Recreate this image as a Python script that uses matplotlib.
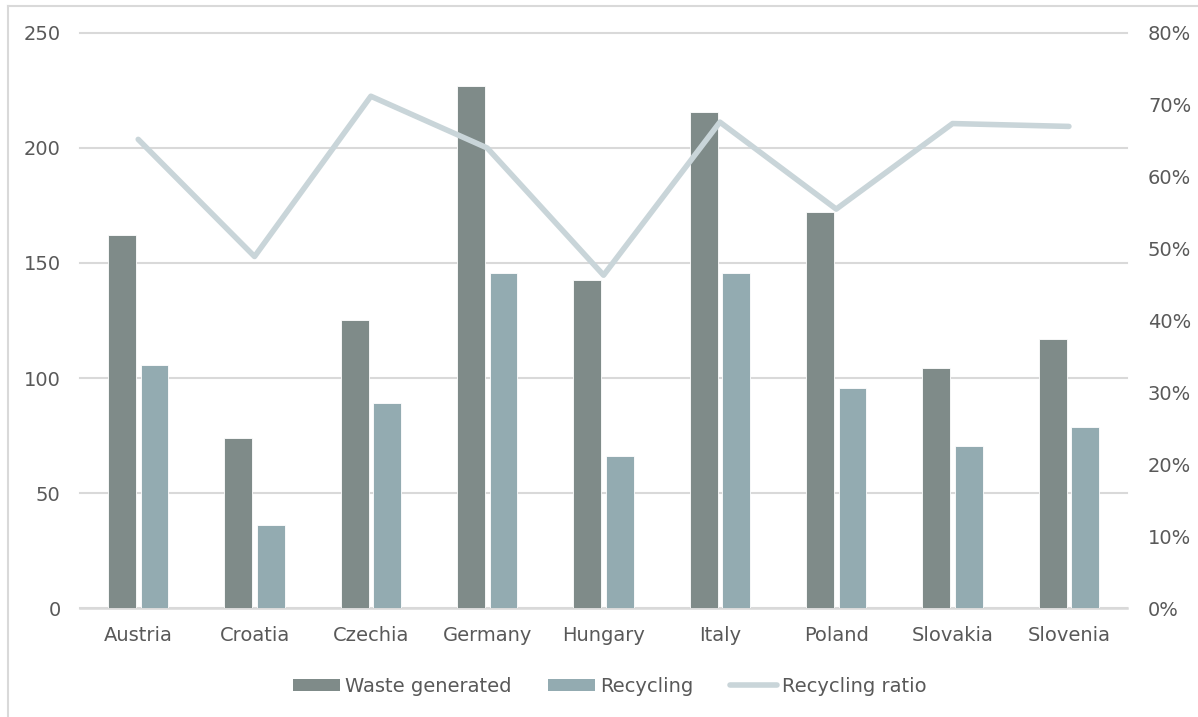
import matplotlib.pyplot as plt
from matplotlib.lines import Line2D
from matplotlib.ticker import FuncFormatter
import numpy as np

countries = ["Austria", "Croatia", "Czechia", "Germany", "Hungary",
             "Italy", "Poland", "Slovakia", "Slovenia"]
waste = [162, 74, 125, 227, 142.5, 215.5, 172, 104.5, 117]
recycling = [105.5, 36, 89, 145.5, 66, 145.5, 95.5, 70.5, 78.5]
ratio = [0.652, 0.489, 0.712, 0.640, 0.463, 0.676, 0.555, 0.674, 0.670]

C_WASTE = "#7f8b89"
C_REC = "#93abb1"
C_RATIO = "#c9d5d9"
C_TEXT = "#595959"
C_GRID = "#d9d9d9"

plt.rcParams['font.family'] = ['DejaVu Sans']

fig = plt.figure(figsize=(11.98, 7.17), dpi=100)
ax = fig.add_axes([0.0668, 0.152, 0.874, 0.802])
x = np.arange(len(countries))
w = 0.24

ax.bar(x - 0.14, waste, w, color=C_WASTE, edgecolor="white", linewidth=0.6, zorder=2)
ax.bar(x + 0.14, recycling, w, color=C_REC, edgecolor="white", linewidth=0.6, zorder=2)

ax.set_ylim(0, 250)
ax.set_xlim(-0.5, len(countries) - 0.5)
ax.set_yticks(range(0, 251, 50))
ax.yaxis.grid(True, color=C_GRID, linewidth=1.5, zorder=0)
for gl in ax.get_ygridlines():
    gl.set_clip_on(False)
ax.set_axisbelow(True)
for s in ax.spines.values():
    s.set_visible(False)
ax.axhline(0, color=C_GRID, linewidth=1.8, zorder=1, clip_on=False)
ax.set_xticks(x)
ax.set_xticklabels(countries)
ax.tick_params(axis="both", length=0, labelsize=14, labelcolor=C_TEXT)
ax.tick_params(axis="y", pad=14)
ax.tick_params(axis="x", pad=13)

ax2 = ax.twinx()
ax2.plot(x, ratio, color=C_RATIO, linewidth=4, solid_capstyle="round",
         solid_joinstyle="round", zorder=3)
ax2.set_ylim(0, 0.8)
ax2.set_yticks(np.arange(0, 0.81, 0.1))
ax2.yaxis.set_major_formatter(FuncFormatter(lambda v, p: f"{v*100:.0f}%"))
ax2.tick_params(axis="y", length=0, labelsize=14, labelcolor=C_TEXT, pad=15)
for s in ax2.spines.values():
    s.set_visible(False)

handles = [
    plt.Rectangle((0, 0), 1, 1, facecolor=C_WASTE, edgecolor="none"),
    plt.Rectangle((0, 0), 1, 1, facecolor=C_REC, edgecolor="none"),
    Line2D([0], [0], color=C_RATIO, linewidth=4, solid_capstyle="round"),
]
leg = fig.legend(handles, ["Waste generated", "Recycling", "Recycling ratio"],
                 loc="center", bbox_to_anchor=(0.509, 0.043), ncol=3, frameon=False,
                 fontsize=14, handlelength=2.4, handleheight=0.6,
                 handletextpad=0.25, columnspacing=1.9, labelcolor=C_TEXT)

# outer chart border (left and top edges visible)
fig.add_artist(Line2D([8/1198, 8/1198], [0, 1 - 6/717], transform=fig.transFigure,
                      color=C_GRID, linewidth=1.5))
fig.add_artist(Line2D([8/1198, 1], [1 - 6/717, 1 - 6/717], transform=fig.transFigure,
                      color=C_GRID, linewidth=1.5))

fig.savefig("out.png", dpi=100)
